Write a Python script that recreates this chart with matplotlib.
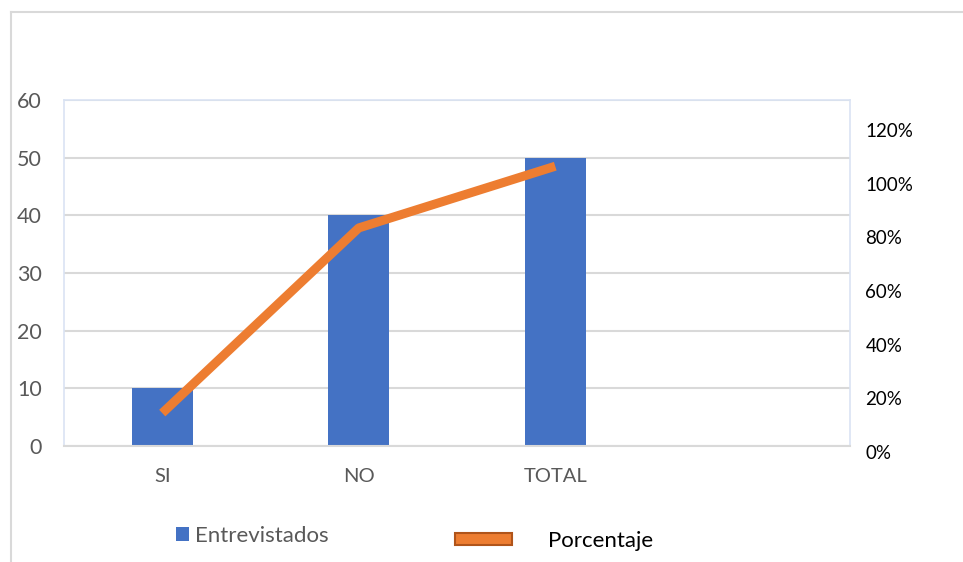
import matplotlib
matplotlib.use("Agg")
import matplotlib.pyplot as plt
from matplotlib.lines import Line2D
from matplotlib.patches import Patch
import numpy as np

plt.rcParams['font.family'] = ['Lato', 'DejaVu Sans']

categories = ["SI", "NO", "TOTAL"]
entrevistados = [10, 40, 50]
porcentaje = [14.5, 83.5, 106.5]   # percent
left_ticks = [0, 10, 20, 30, 40, 50, 60]
right_ticks = [0, 20, 40, 60, 80, 100, 120]
right_labels = ["0%", "20%", "40%", "60%", "80%", "100%", "120%"]

W, H = 963, 562
fig = plt.figure(figsize=(W / 100, H / 100), dpi=100)

def fx(px):
    return px / W

def fy(py):
    return (H - py) / H

# main axes (bars)
ax = fig.add_axes([fx(64), fy(446), fx(850) - fx(64), fy(100) - fy(446)])
x = np.arange(len(categories))
ax.bar(x, entrevistados, width=0.31, color="#4472C4", zorder=2)
ax.set_xlim(-0.5, 3.5)
ax.set_ylim(0, 60)
ax.set_yticks(left_ticks)
ax.set_xticks(x)
ax.set_xticklabels(categories)
ax.yaxis.grid(True, color="#D9D9D9", lw=1.5, zorder=0)
ax.set_axisbelow(True)
ax.tick_params(axis='y', length=0, pad=16, labelsize=15.5, labelcolor="#595959")
ax.tick_params(axis='x', length=0, pad=16, labelsize=14.5, labelcolor="#595959")
for s in ["left", "right", "top"]:
    ax.spines[s].set_color("#DAE3F3")
    ax.spines[s].set_linewidth(1.2)
ax.spines["bottom"].set_color("#D9D9D9")
ax.spines["bottom"].set_linewidth(1.5)

# secondary axes (percentage line), 0% sits slightly below the bar baseline
ax2 = fig.add_axes([fx(64), fy(452), fx(850) - fx(64), fy(100) - fy(452)])
ax2.patch.set_alpha(0)
for s in ax2.spines.values():
    s.set_visible(False)
ax2.set_xlim(-0.5, 3.5)
ax2.set_ylim(0, (452 - 100) / (322 / 120))
ax2.plot(x, porcentaje, color="#ED7D31", lw=6.5, solid_capstyle="butt", zorder=3)
ax2.set_xticks([])
ax2.yaxis.tick_right()
ax2.set_yticks(right_ticks)
ax2.set_yticklabels(right_labels)
ax2.tick_params(axis='y', length=0, pad=11, labelsize=13.5, labelcolor="#000000")

# legends
leg1 = fig.legend(handles=[Patch(facecolor="#4472C4", edgecolor="none")],
                  labels=["Entrevistados"], loc="center left",
                  bbox_to_anchor=(fx(176), fy(536)), frameon=False,
                  borderpad=0, borderaxespad=0, handlelength=0.6,
                  handleheight=0.6, handletextpad=0.25, fontsize=16)
for t in leg1.get_texts():
    t.set_color("#595959")
leg2 = fig.legend(handles=[Patch(facecolor="#ED7D31", edgecolor="#B0541A", lw=1.5)],
                  labels=["Porcentaje"], loc="center left",
                  bbox_to_anchor=(fx(455), fy(541)), frameon=False,
                  borderpad=0, borderaxespad=0, handlelength=2.55,
                  handleheight=0.45, handletextpad=1.65, fontsize=16)
for t in leg2.get_texts():
    t.set_color("#000000")

# outer chart border (left and top)
fig.add_artist(Line2D([fx(11), fx(11)], [fy(12), fy(562)], color="#D9D9D9", lw=1.5))
fig.add_artist(Line2D([fx(11), fx(962)], [fy(12), fy(12)], color="#D9D9D9", lw=1.5))

fig.savefig("out.png", dpi=100)
